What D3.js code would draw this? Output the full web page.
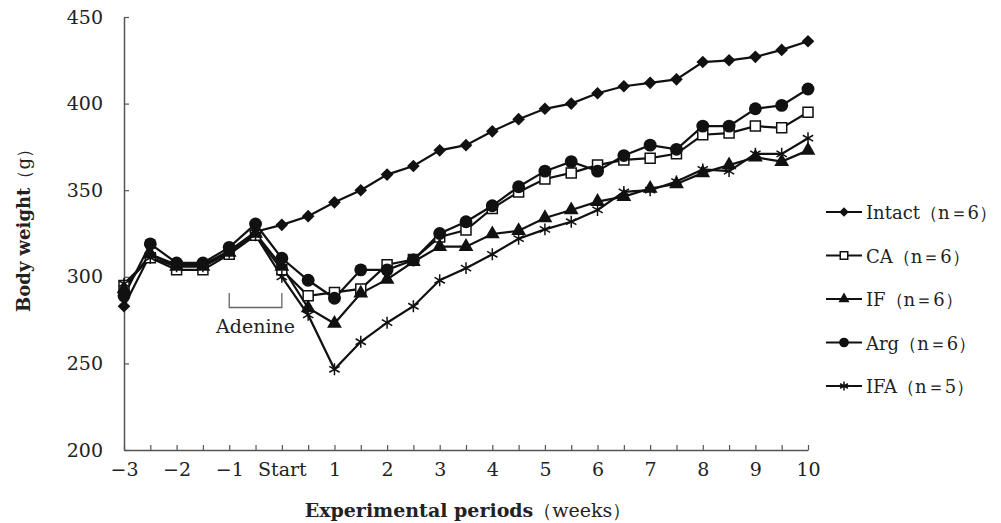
<!DOCTYPE html>
<html>
<head>
<meta charset="utf-8">
<script src="https://cdn.jsdelivr.net/npm/d3@7"></script>
<style>
  body { margin: 0; background: #fff; }
  svg text { font-family: "DejaVu Serif", "Liberation Serif", "Times New Roman", serif; fill: #222; }
</style>
</head>
<body>
<div id="chart"></div>
<script>
// Data (half-week steps from -3 to 10)
var weeks = [-3, -2.5, -2, -1.5, -1, -0.5, 0, 0.5, 1, 1.5, 2, 2.5, 3, 3.5, 4, 4.5, 5, 5.5, 6, 6.5, 7, 7.5, 8, 8.5, 9, 9.5, 10];
var intact = [283, 313, 307, 307, 315, 326, 330, 335, 343, 350, 359, 364, 373, 376, 384, 391, 397, 400, 406, 410, 412, 414, 424, 425, 427, 431, 436];
var ca = [295, 311, 304, 304, 313, 324, 304, 289, 291, 293, 307, 310, 323, 327, 339.5, 349, 356.5, 360, 364.5, 367.5, 368.5, 371, 382, 383, 387, 386, 395];
var iF = [293, 313, 306, 306, 314, 325, 306, 282, 273, 290.5, 298.5, 308.7, 317.4, 317.4, 324.7, 326.6, 334, 338.6, 343.4, 346.3, 351, 353.6, 360, 364.5, 369, 366.5, 373];
var arg = [289, 319, 308, 308, 317, 330.5, 310.7, 298, 287.6, 304, 304, 309.7, 325, 331.8, 341, 352, 361, 366.5, 361, 370, 376, 373.6, 387, 387, 397, 399, 408.4];
var ifa = [296, 311, 306, 306, 314, 324, 300, 278, 246.6, 262.5, 273.5, 283, 298, 305, 313, 322, 327.4, 331.8, 338.6, 349, 350, 355, 362, 361, 371, 371, 380];

var seriesNames = ["Intact（n＝6）", "CA（n＝6）", "IF（n＝6）", "Arg（n＝6）", "IFA（n＝5）"];
var yTicks = [200, 250, 300, 350, 400, 450];

var serifFont = "'DejaVu Serif', 'Liberation Serif', serif";

// SVG container
var svgWidth = 1001;
var svgHeight = 523;

var svg = d3.select("#chart").append("svg")
  .attr("width", svgWidth)
  .attr("height", svgHeight);

// Scales
var xScale = d3.scaleLinear().domain([-3, 10]).range([124, 808]);
var yScale = d3.scaleLinear().domain([200, 450]).range([450, 17]);

// Axes
var xAxis = d3.axisBottom(xScale)
  .tickValues(weeks)
  .tickSizeInner(-5)
  .tickSizeOuter(0)
  .tickPadding(13)
  .tickFormat(function(d) {
    if (d % 1 !== 0) return "";
    if (d === 0) return "Start";
    return d < 0 ? "\u2212" + Math.abs(d) : d;
  });

var yAxis = d3.axisLeft(yScale)
  .tickValues(yTicks)
  .tickSizeInner(-5)
  .tickSizeOuter(0)
  .tickPadding(21);

var gx = svg.append("g")
  .attr("transform", "translate(0," + 450 + ")")
  .call(xAxis);

var gy = svg.append("g")
  .attr("transform", "translate(" + 124 + ",0)")
  .call(yAxis);

[gx, gy].forEach(function(g) {
  g.attr("font-family", null);
  g.select(".domain").attr("stroke", "#555").attr("stroke-width", 1.5);
  g.selectAll(".tick line").attr("stroke", "#555").attr("stroke-width", 1.2);
  g.selectAll(".tick text")
    .style("font-family", serifFont)
    .style("font-size", "19px")
    .attr("fill", "#222");
});

// Series definitions
var series = [
  { name: seriesNames[0], values: intact, type: "diamond" },
  { name: seriesNames[1], values: ca, type: "square" },
  { name: seriesNames[2], values: iF, type: "triangle" },
  { name: seriesNames[3], values: arg, type: "circle" },
  { name: seriesNames[4], values: ifa, type: "star" }
];

// marker drawing helper
function drawMarker(g, type, scale) {
  var s = scale || 1;
  if (type === "diamond") {
    g.append("path")
      .attr("d", d3.symbol().type(d3.symbolSquare).size(80 * s * s))
      .attr("transform", "rotate(45)")
      .attr("fill", "#111");
  } else if (type === "square") {
    g.append("path")
      .attr("d", d3.symbol().type(d3.symbolSquare).size(100 * s * s))
      .attr("fill", "#fff")
      .attr("stroke", "#111")
      .attr("stroke-width", 1.5);
  } else if (type === "triangle") {
    g.append("path")
      .attr("d", d3.symbol().type(d3.symbolTriangle).size(95 * s * s))
      .attr("fill", "#111");
  } else if (type === "circle") {
    g.append("path")
      .attr("d", d3.symbol().type(d3.symbolCircle).size(130 * s * s))
      .attr("fill", "#111");
  } else {
    g.append("path")
      .attr("d", d3.symbol().type(d3.symbolAsterisk).size(100 * s * s))
      .attr("fill", "none")
      .attr("stroke", "#111")
      .attr("stroke-width", 1.5);
  }
}

var line = d3.line()
  .x(function(d, i) { return xScale(weeks[i]); })
  .y(function(d) { return yScale(d); });

var chartGroup = svg.append("g");

series.forEach(function(s) {
  chartGroup.append("path")
    .datum(s.values)
    .attr("d", line)
    .attr("fill", "none")
    .attr("stroke", "#111")
    .attr("stroke-width", 2.2);
});

series.forEach(function(s) {
  s.values.forEach(function(v, i) {
    var g = chartGroup.append("g")
      .attr("transform", "translate(" + xScale(weeks[i]) + "," + yScale(v) + ")");
    drawMarker(g, s.type, 1);
  });
});

// Adenine bracket
var bracket = svg.append("g");
bracket.append("path")
  .attr("d", "M" + xScale(-1) + ",293 V307.5 H" + xScale(0) + " V293")
  .attr("fill", "none")
  .attr("stroke", "#666")
  .attr("stroke-width", 1.3);
bracket.append("text")
  .attr("x", xScale(-0.5))
  .attr("y", 333)
  .attr("text-anchor", "middle")
  .style("font-family", serifFont)
  .style("font-size", "19px")
  .text("Adenine");

// Legend
var legend = svg.append("g");
series.forEach(function(s, i) {
  var ly = 212 + i * 43.5;
  var row = legend.append("g").attr("transform", "translate(0," + ly + ")");
  row.append("line")
    .attr("x1", 826).attr("x2", 862)
    .attr("y1", 0).attr("y2", 0)
    .attr("stroke", "#111")
    .attr("stroke-width", 2.2);
  var m = row.append("g").attr("transform", "translate(844,0)");
  drawMarker(m, s.type, 0.75);
  row.append("text")
    .attr("x", 866)
    .attr("y", 7)
    .style("font-family", serifFont)
    .style("font-size", "18px")
    .text(s.name);
});

// Axis titles
var xTitle = svg.append("text")
  .attr("x", 468)
  .attr("y", 517)
  .attr("text-anchor", "middle")
  .style("font-family", serifFont)
  .style("font-size", "19px");
xTitle.append("tspan").style("font-weight", "bold").text("Experimental periods");
xTitle.append("tspan").text("（weeks）");

var yTitle = svg.append("text")
  .attr("transform", "translate(30,226) rotate(-90)")
  .attr("text-anchor", "middle")
  .style("font-family", serifFont)
  .style("font-size", "18px");
yTitle.append("tspan").style("font-weight", "bold").text("Body weight");
yTitle.append("tspan").text("（g）");
</script>
</body>
</html>
